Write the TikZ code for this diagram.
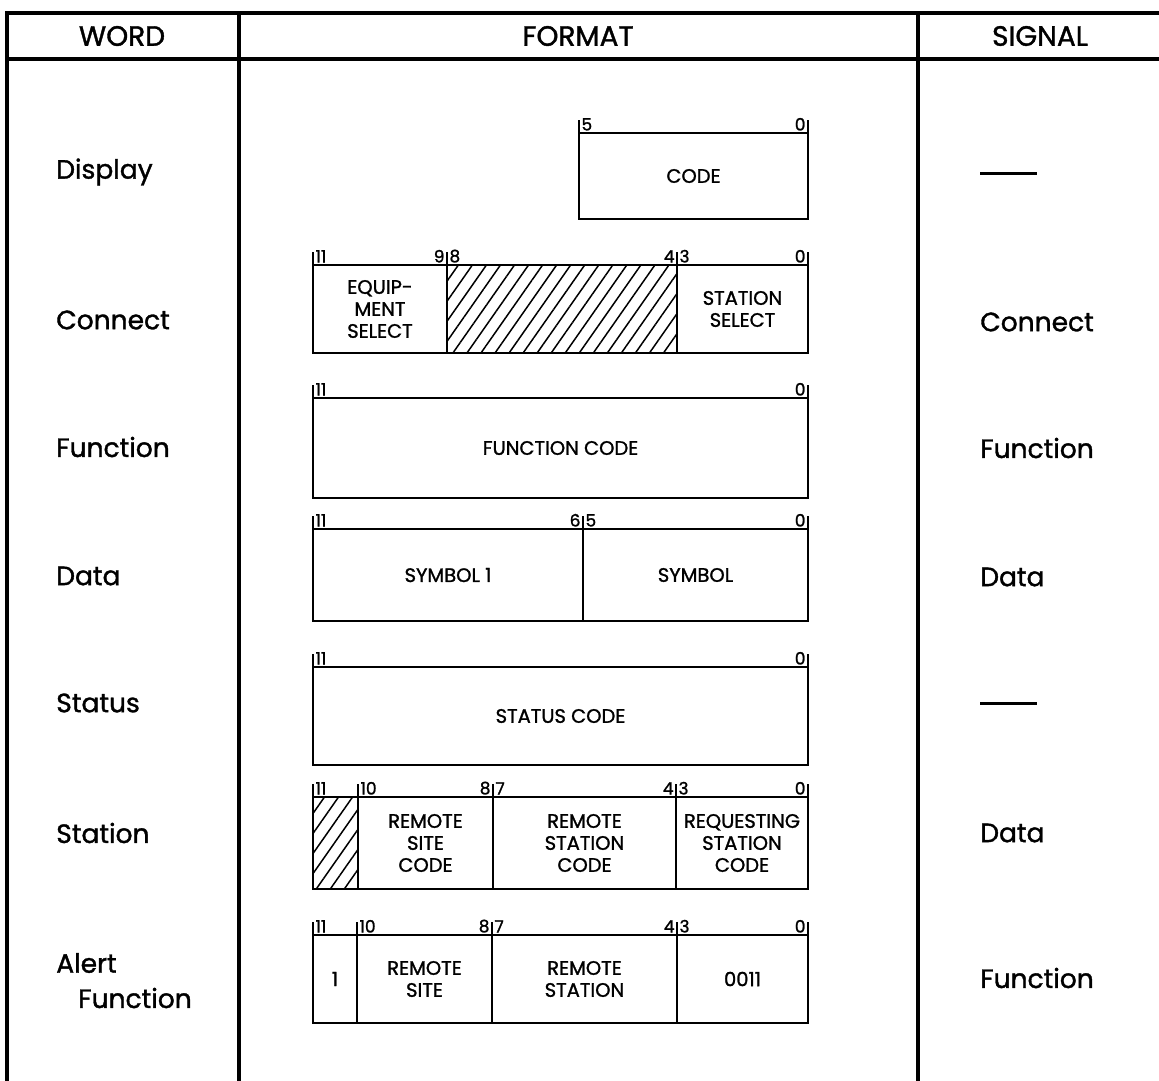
\documentclass[tikz,border=0pt]{standalone}
\usepackage{fontspec}
\setmainfont{Poppins}[FakeBold=1.3]
\usetikzlibrary{patterns.meta}

\begin{document}
\begin{tikzpicture}[x=1pt,y=-1pt,line width=2.6pt,line cap=rect]
\tikzstyle{head}=[font=\fontsize{28}{30}\selectfont,inner sep=0pt]
\tikzstyle{word}=[anchor=west,font=\fontsize{26.5}{28}\selectfont,inner sep=0pt]
\tikzstyle{field}=[align=center,font=\fontsize{19.5}{22}\selectfont,inner sep=0pt]
\tikzstyle{bitl}=[anchor=south west,font=\fontsize{17}{17}\selectfont,inner sep=1.2pt]
\tikzstyle{bitr}=[anchor=south east,font=\fontsize{17}{17}\selectfont,inner sep=1.2pt]
\tikzstyle{rule}=[line width=3.2pt]
\tikzstyle{hatch}=[pattern={Lines[angle=55,distance=11.5pt,line width=1.5pt]}]
\useasboundingbox (0,0) rectangle (1159,1080);
\clip (0,0) rectangle (1159,1080);

% table
\draw[rule] (7,1090) -- (7,13) -- (1170,13);
\draw[rule] (7,59) -- (1170,59);
\draw[rule] (239,13) -- (239,1090);
\draw[rule] (918,13) -- (918,1090);
\node[head] (hword) at (122,36) {WORD};
\node[head] (hformat) at (578,36) {FORMAT};
\node[head] (hsignal) at (1040,36) {SIGNAL};

% word column
\node[word] (wdisplay) at (55,172) {Display};
\node[word] (wconnect) at (55,320) {Connect};
\node[word] (wfunction) at (55,447) {Function};
\node[word] (wdata) at (55,576) {Data};
\node[word] (wstatus) at (55,703) {Status};
\node[word] (wstation) at (55,833) {Station};
\node[word] (walert) at (55,963) {Alert};
\node[word] (walertfn) at (77,998) {Function};

% signal column
\node[word] (sdisplay) at (979,173) {\rule{57pt}{3pt}};
\node[word] (sconnect) at (979,322) {Connect};
\node[word] (sfunction) at (979,448) {Function};
\node[word] (sdata) at (979,577) {Data};
\node[word] (sstatus) at (979,703) {\rule{57pt}{3pt}};
\node[word] (sstation) at (979,833) {Data};
\node[word] (salert) at (979,978) {Function};

% display
\draw (579,133) -- (808,133) (579,219) -- (808,219);
\foreach \x in {579,808} \draw (\x,121) -- (\x,219);
\node[bitl] (d5) at (579,133) {5};
\node[bitr] (d0) at (808,133) {0};
\node[field] (dcode) at (693.5,176) {CODE};

% connect
\fill[hatch] (447,265) rectangle (677,353);
\draw (313,265) -- (808,265) (313,353) -- (808,353);
\foreach \x in {313,447,677,808} \draw (\x,253) -- (\x,353);
\node[bitl] (c11) at (313,265) {11};
\node[bitr] (c9) at (447,265) {9};
\node[bitl] (c8) at (447,265) {8};
\node[bitr] (c4) at (677,265) {4};
\node[bitl] (c3) at (677,265) {3};
\node[bitr] (c0) at (808,265) {0};
\node[field] (cequip) at (380,309) {EQUIP-\\MENT\\SELECT};
\node[field] (cstation) at (742.5,309) {STATION\\SELECT};

% function
\draw (313,398) -- (808,398) (313,498) -- (808,498);
\foreach \x in {313,808} \draw (\x,386) -- (\x,498);
\node[bitl] (f11) at (313,398) {11};
\node[bitr] (f0) at (808,398) {0};
\node[field] (fcode) at (560.5,448) {FUNCTION CODE};

% data
\draw (313,529) -- (808,529) (313,621) -- (808,621);
\foreach \x in {313,583,808} \draw (\x,517) -- (\x,621);
\node[bitl] (a11) at (313,529) {11};
\node[bitr] (a6) at (583,529) {6};
\node[bitl] (a5) at (583,529) {5};
\node[bitr] (a0) at (808,529) {0};
\node[field] (asym1) at (448,575) {SYMBOL 1};
\node[field] (asym) at (695.5,575) {SYMBOL};

% status
\draw (313,667) -- (808,667) (313,765) -- (808,765);
\foreach \x in {313,808} \draw (\x,655) -- (\x,765);
\node[bitl] (s11) at (313,667) {11};
\node[bitr] (s0) at (808,667) {0};
\node[field] (scode) at (560.5,716) {STATUS CODE};

% station
\fill[hatch] (313,797) rectangle (358,889);
\draw (313,797) -- (808,797) (313,889) -- (808,889);
\foreach \x in {313,358,493,676,808} \draw (\x,785) -- (\x,889);
\node[bitl] (t11) at (313,797) {11};
\node[bitl] (t10) at (358,797) {10};
\node[bitr] (t8) at (493,797) {8};
\node[bitl] (t7) at (493,797) {7};
\node[bitr] (t4) at (676,797) {4};
\node[bitl] (t3) at (676,797) {3};
\node[bitr] (t0) at (808,797) {0};
\node[field] (tsite) at (425.5,843) {REMOTE\\SITE\\CODE};
\node[field] (tremote) at (584.5,843) {REMOTE\\STATION\\CODE};
\node[field] (treq) at (742,843) {REQUESTING\\STATION\\CODE};

% alert function
\draw (313,935) -- (808,935) (313,1023) -- (808,1023);
\foreach \x in {313,357,492,677,808} \draw (\x,923) -- (\x,1023);
\node[bitl] (l11) at (313,935) {11};
\node[bitl] (l10) at (357,935) {10};
\node[bitr] (l8) at (492,935) {8};
\node[bitl] (l7) at (492,935) {7};
\node[bitr] (l4) at (677,935) {4};
\node[bitl] (l3) at (677,935) {3};
\node[bitr] (l0) at (808,935) {0};
\node[field] (lone) at (335,979) {1};
\node[field] (lsite) at (424.5,979) {REMOTE\\SITE};
\node[field] (lstation) at (584.5,979) {REMOTE\\STATION};
\node[field] (lcode) at (742.5,979) {0011};
\end{tikzpicture}
\end{document}
